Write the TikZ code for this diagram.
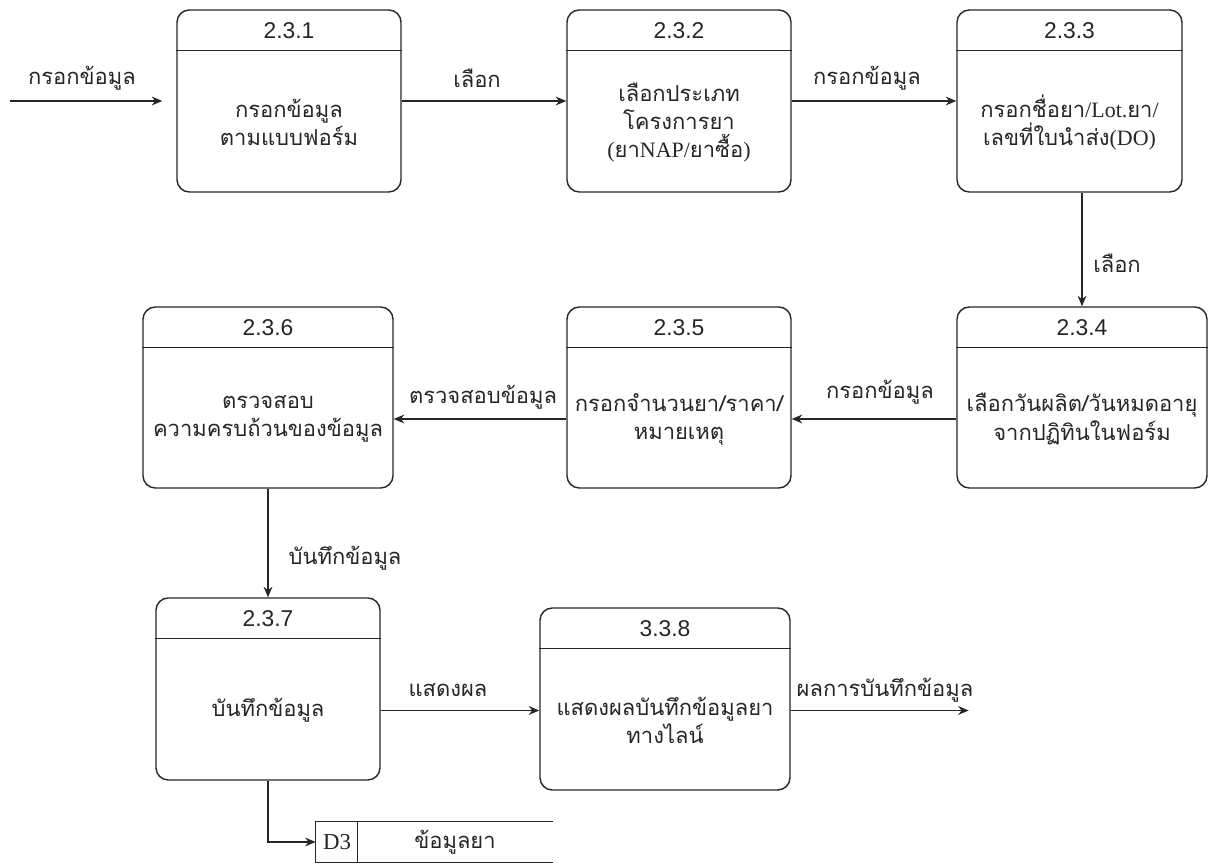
\documentclass[tikz,border=0pt]{standalone}
\usepackage{fontspec}
\setmainfont{Loma}[Script=Thai]
\newfontfamily\latserif{Liberation Serif}
\newfontfamily\numfont{Liberation Sans}
\usetikzlibrary{arrows.meta,calc}

% process box: header strip with the process number, body with its description
\newcommand\prochead[2]{%
  \draw[boxline] ($(#1.north west)+(0,41)$) -- ($(#1.north east)+(0,41)$);
  \node[numtext] (#1-id) at ($(#1.north)+(0,21)$) {#2};}
\newcommand\procbody[2]{%
  \node[bodytext] (#1-txt) at ($(#1.center)+(0,21.5)$) {#2};}

\begin{document}
\begin{tikzpicture}[x=0.02cm,y=-0.02cm,
  boxline/.style={line width=0.8pt, draw=black!85},
  proc/.style={boxline, rounded corners=7pt, inner sep=0pt},
  numtext/.style={font=\numfont\fontsize{13}{15}\selectfont, text=black!85},
  bodytext/.style={font=\fontsize{12.5}{16}\selectfont, align=center, text=black!85},
  flowlabel/.style={font=\fontsize{12.5}{15}\selectfont, text=black!85},
  arr/.style={line width=0.8pt, draw=black!85, -{Stealth[length=6pt,width=5pt]}}]

\useasboundingbox (0,0) rectangle (1208,864);

% row 1
\node[proc, minimum width=224*0.02cm, minimum height=182*0.02cm] (p1) at (289,101) {};
\prochead{p1}{2.3.1}
\procbody{p1}{กรอกข้อมูล\\ตามแบบฟอร์ม}

\node[proc, minimum width=224*0.02cm, minimum height=182*0.02cm] (p2) at (679,101) {};
\prochead{p2}{2.3.2}
\procbody{p2}{เลือกประเภท\\โครงการยา\\{\latserif(}ยา{\latserif NAP/}ยาซื้อ{\latserif)}}

\node[proc, minimum width=225*0.02cm, minimum height=182*0.02cm] (p3) at (1069.5,101) {};
\prochead{p3}{2.3.3}
\procbody{p3}{กรอกชื่อยา{\latserif/Lot.}ยา{\latserif/}\\เลขที่ใบนำส่ง{\latserif(DO)}}

% row 2
\node[proc, minimum width=250*0.02cm, minimum height=181*0.02cm] (p4) at (1082,397.5) {};
\prochead{p4}{2.3.4}
\procbody{p4}{เลือกวันผลิต/วันหมดอายุ\\จากปฏิทินในฟอร์ม}

\node[proc, minimum width=224*0.02cm, minimum height=181*0.02cm] (p5) at (679,397.5) {};
\prochead{p5}{2.3.5}
\procbody{p5}{กรอกจำนวนยา/ราคา/\\หมายเหตุ}

\node[proc, minimum width=250*0.02cm, minimum height=181*0.02cm] (p6) at (268,397.5) {};
\prochead{p6}{2.3.6}
\procbody{p6}{ตรวจสอบ\\ความครบถ้วนของข้อมูล}

% row 3
\node[proc, minimum width=224*0.02cm, minimum height=182*0.02cm] (p7) at (268,689) {};
\prochead{p7}{2.3.7}
\procbody{p7}{บันทึกข้อมูล}

\node[proc, minimum width=250*0.02cm, minimum height=182*0.02cm] (p8) at (665,699) {};
\prochead{p8}{3.3.8}
\procbody{p8}{แสดงผลบันทึกข้อมูลยา\\ทางไลน์}

% data store D3 (open on the right)
\node[minimum width=237*0.02cm, minimum height=40*0.02cm, inner sep=0pt] (d3) at (434.5,842) {};
\draw[boxline] (d3.north east) -- (d3.north west) -- (d3.south west) -- (d3.south east);
\draw[boxline] ($(d3.north west)+(42,0)$) coordinate (d3div) -- (d3div |- d3.south);
\node[font=\latserif\fontsize{13}{15}\selectfont, text=black!85] (d3-id) at (337,842) {D3};
\node[flowlabel] (d3-txt) at (455,842) {ข้อมูลยา};

% flows
\coordinate (src) at (10,101);
\coordinate (srcend) at ($(p1.west)+(-14,0)$);
\coordinate (sink) at ($(p8.east |- p7-txt)+(178,0)$);

\draw[arr] (src) -- (srcend);
\node[flowlabel] (l0) at (82,78) {กรอกข้อมูล};

\draw[arr] (p1.east) -- (p2.west);
\node[flowlabel] (l1) at (477,78) {เลือก};

\draw[arr] (p2.east) -- (p3.west);
\node[flowlabel] (l2) at (867,78) {กรอกข้อมูล};

\draw[arr] (p4.north |- p3.south) -- (p4.north);
\node[flowlabel] (l3) at (1117,263) {เลือก};

\draw[arr] (p4.west |- p4-txt) -- (p5.east |- p4-txt);
\node[flowlabel] (l4) at (880,392) {กรอกข้อมูล};

\draw[arr] (p5.west |- p5-txt) -- (p6.east |- p5-txt);
\node[flowlabel] (l5) at (483,397) {ตรวจสอบข้อมูล};

\draw[arr] (p6.south) -- (p7.north);
\node[flowlabel] (l6) at (345,558) {บันทึกข้อมูล};

\draw[arr] (p7.east |- p7-txt) -- (p8.west |- p7-txt);
\node[flowlabel] (l7) at (448,690) {แสดงผล};

\draw[arr] (p8.east |- p7-txt) -- (sink);
\node[flowlabel] (l8) at (885,690) {ผลการบันทึกข้อมูล};

\draw[arr] (p7.south) |- (d3.west);

\end{tikzpicture}
\end{document}
